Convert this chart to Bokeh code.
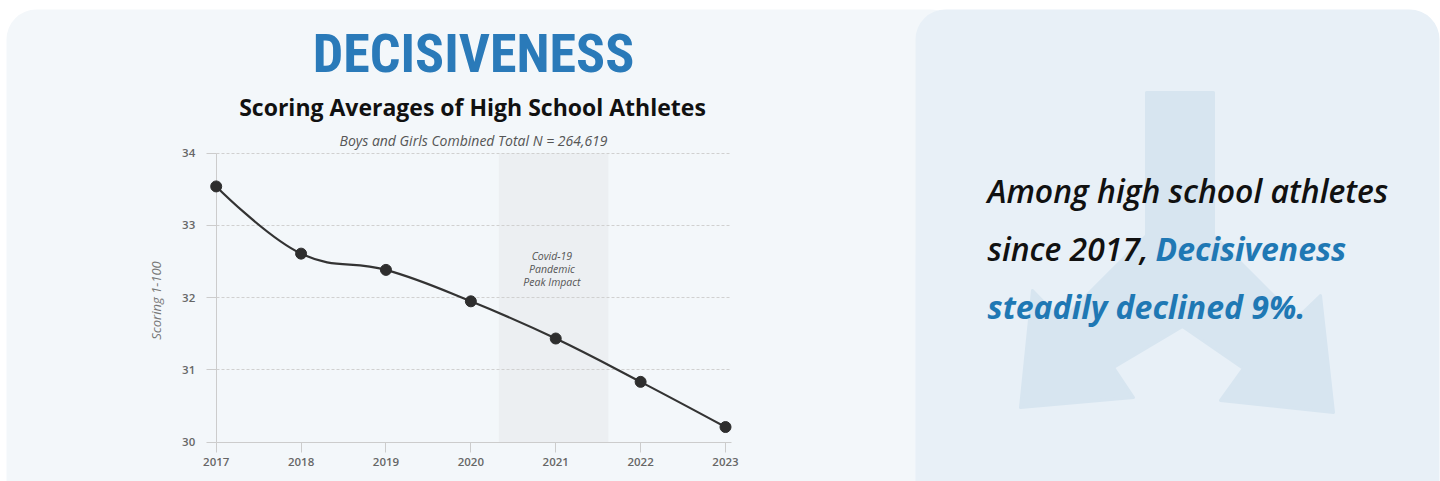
import math
from bokeh.plotting import figure
from bokeh.models import Range1d, LinearAxis, FixedTicker, Grid
from bokeh.core.properties import value
from bokeh.embed import file_html
from bokeh.resources import INLINE

# ---------------- data ----------------
years = [2017, 2018, 2019, 2020, 2021, 2022, 2023]
scores = [33.54, 32.61, 32.385, 31.95, 31.435, 30.835, 30.21]
y_ticks = [30, 31, 32, 33, 34]
covid_band = [2020.33, 2021.62]
covid_label = ["Covid-19", "Pandemic", "Peak Impact"]
title_text = "DECISIVENESS"
subtitle_text = "Scoring Averages of High School Athletes"
note_text = "Boys and Girls Combined Total N = 264,619"
y_axis_label = "Scoring 1-100"
callout_lines = ["Among high school athletes", "since 2017,", "Decisiveness", "steadily declined 9%."]

# ---------------- layout ----------------
W, H = 1440, 481
PX_X0, PX_X1 = 215.7, 725.0      # page x of first / last year
PX_YTOP, PX_YBOT = 152.7, 441.7  # page y of top / bottom tick

ppy = (PX_X1 - PX_X0) / (years[-1] - years[0])
cx_start = years[0] - PX_X0 / ppy
cx_end = cx_start + W / ppy
ppu = (PX_YBOT - PX_YTOP) / (y_ticks[-1] - y_ticks[0])
cy_end = y_ticks[-1] + PX_YTOP / ppu
cy_start = cy_end - H / ppu


def Y(py):
    return H - py


p = figure(width=W, height=H, x_range=Range1d(0, W), y_range=Range1d(0, H),
           x_axis_type=None, y_axis_type=None, output_backend="svg",
           toolbar_location=None, min_border=0, outline_line_color=None,
           background_fill_color="white", border_fill_color="white")
p.extra_x_ranges = {"cx": Range1d(cx_start, cx_end)}
p.extra_y_ranges = {"cy": Range1d(cy_start, cy_end)}

FONT = value("Open Sans")
SEMI = value("Open Sans SemiBold, Open Sans")
TITLE_FONT = value("Roboto Condensed, Liberation Sans Narrow, DejaVu Sans Condensed, Roboto")

# cards
r = p.quad(left=6, right=960, top=Y(9), bottom=Y(540), fill_color="#f3f7fa",
           line_color=None, border_radius=30)
r.level = "image"
r = p.quad(left=915, right=1439, top=Y(9), bottom=Y(540), fill_color="#e8f0f7",
           line_color=None, border_radius=30)
r.level = "image"

# decorative arrow
arrow_x = [1146, 1213, 1213, 1296, 1320, 1333, 1220, 1243, 1182, 1113, 1133, 1020, 1032, 1061, 1146]
arrow_y = [92, 92, 235, 318, 295, 412, 400, 368, 326, 367, 397, 407, 290, 320, 235]
r = p.patch([x for x in arrow_x], [Y(y) for y in arrow_y], fill_color="#d7e5f0",
            line_color="#d7e5f0", line_width=3, line_join="round")
r.level = "image"

# covid band
r = p.quad(left=[covid_band[0]], right=[covid_band[1]], bottom=[y_ticks[0]], top=[y_ticks[-1]],
           x_range_name="cx", y_range_name="cy", fill_color="#eceff2", line_color=None)
r.level = "image"

# grid
grid = Grid(dimension=1, ticker=FixedTicker(ticks=y_ticks[1:]), x_range_name="cx", y_range_name="cy",
            grid_line_color="#d0d0d0", grid_line_dash="3 2", grid_line_width=1)
grid.cross_bounds = (years[0], years[-1] + 0.07)
p.add_layout(grid, "center")

# axes
def style_axis(ax):
    ax.axis_line_color = "#cccccc"
    ax.major_tick_line_color = "#cccccc"
    ax.major_tick_out = 10
    ax.major_tick_in = 0
    ax.minor_tick_out = 0
    ax.minor_tick_in = 0
    ax.major_label_text_font = "Open Sans SemiBold, Open Sans"
    ax.major_label_text_font_style = "normal"
    ax.major_label_text_font_size = "11.5px"
    ax.major_label_text_color = "#666666"

yaxis = LinearAxis(x_range_name="cx", y_range_name="cy", fixed_location=years[0],
                   bounds=(y_ticks[0], y_ticks[-1]), ticker=FixedTicker(ticks=y_ticks))
style_axis(yaxis)
yaxis.major_label_standoff = 11
p.add_layout(yaxis, "left")

xaxis = LinearAxis(x_range_name="cx", y_range_name="cy", fixed_location=y_ticks[0],
                   bounds=(years[0], years[-1] + 0.07), ticker=FixedTicker(ticks=years))
style_axis(xaxis)
xaxis.major_label_standoff = 6
p.add_layout(xaxis, "below")

# smooth spline (Highcharts style) from the data points
n = len(years)
sm = 1.5
den = sm + 1
lc = [None] * n
rc = [None] * n
for i in range(1, n - 1):
    x, y = years[i], scores[i]
    lx, ly = years[i - 1], scores[i - 1]
    nx, ny = years[i + 1], scores[i + 1]
    lcx = (sm * x + lx) / den
    lcy = (sm * y + ly) / den
    rcx = (sm * x + nx) / den
    rcy = (sm * y + ny) / den
    corr = 0
    if rcx != lcx:
        corr = ((rcy - lcy) * (rcx - x)) / (rcx - lcx) + y - rcy
    lcy += corr
    rcy += corr
    if lcy > ly and lcy > y:
        lcy = max(ly, y); rcy = 2 * y - lcy
    elif lcy < ly and lcy < y:
        lcy = min(ly, y); rcy = 2 * y - lcy
    if rcy > ny and rcy > y:
        rcy = max(ny, y); lcy = 2 * y - rcy
    elif rcy < ny and rcy < y:
        rcy = min(ny, y); lcy = 2 * y - rcy
    lc[i] = (lcx, lcy)
    rc[i] = (rcx, rcy)

bx0, by0, bx1, by1, bcx0, bcy0, bcx1, bcy1 = [], [], [], [], [], [], [], []
for i in range(n - 1):
    bx0.append(years[i]); by0.append(scores[i])
    bx1.append(years[i + 1]); by1.append(scores[i + 1])
    c0 = rc[i] if rc[i] else (years[i], scores[i])
    c1 = lc[i + 1] if lc[i + 1] else (years[i + 1], scores[i + 1])
    bcx0.append(c0[0]); bcy0.append(c0[1])
    bcx1.append(c1[0]); bcy1.append(c1[1])

r = p.bezier(x0=bx0, y0=by0, x1=bx1, y1=by1, cx0=bcx0, cy0=bcy0, cx1=bcx1, cy1=bcy1,
             x_range_name="cx", y_range_name="cy", line_color="#333333", line_width=2.2)
r.level = "overlay"
r = p.scatter(years, scores, x_range_name="cx", y_range_name="cy", size=11,
              fill_color="#2e2e2e", line_color="#2e2e2e")
r.level = "overlay"

# covid label
band_mid = (covid_band[0] + covid_band[1]) / 2 - 0.02
p.text(x=[band_mid] * 3, y=[Y(255), Y(268), Y(281)], text=covid_label, x_range_name="cx",
       text_font=FONT, text_font_style="italic", text_font_size="10.5px", text_color="#555555",
       text_align="center", text_baseline="middle")

# titles
p.text(x=[473], y=[Y(53)], text=[title_text], text_font=TITLE_FONT,
       text_font_style="bold", text_font_size="54px", text_color="#2a7ab9",
       text_align="center", text_baseline="middle")
p.text(x=[472], y=[Y(106)], text=[subtitle_text], text_font=FONT, text_font_style="bold",
       text_font_size="23px", text_color="#111111", text_align="center", text_baseline="middle")
p.text(x=[473], y=[Y(140)], text=[note_text], text_font=FONT, text_font_style="italic",
       text_font_size="14px", text_color="#555555", text_align="center", text_baseline="middle")

# y-axis label
p.text(x=[155], y=[Y(300)], text=[y_axis_label], angle=math.pi / 2, text_font=FONT,
       text_font_style="italic", text_font_size="13px", text_color="#777777",
       text_align="center", text_baseline="middle")

# callout text
p.text(x=[987, 987], y=[Y(189.5), Y(248)], text=callout_lines[0:2], text_font=SEMI,
       text_font_style="italic", text_font_size="32px", text_color="#111111",
       text_align="left", text_baseline="middle")
p.text(x=[1155, 987], y=[Y(248), Y(306)], text=callout_lines[2:4], text_font=FONT,
       text_font_style="bold italic", text_font_size="32px", text_color="#1f78b4",
       text_align="left", text_baseline="middle")

open("out.html", "w").write(file_html(p, INLINE))
